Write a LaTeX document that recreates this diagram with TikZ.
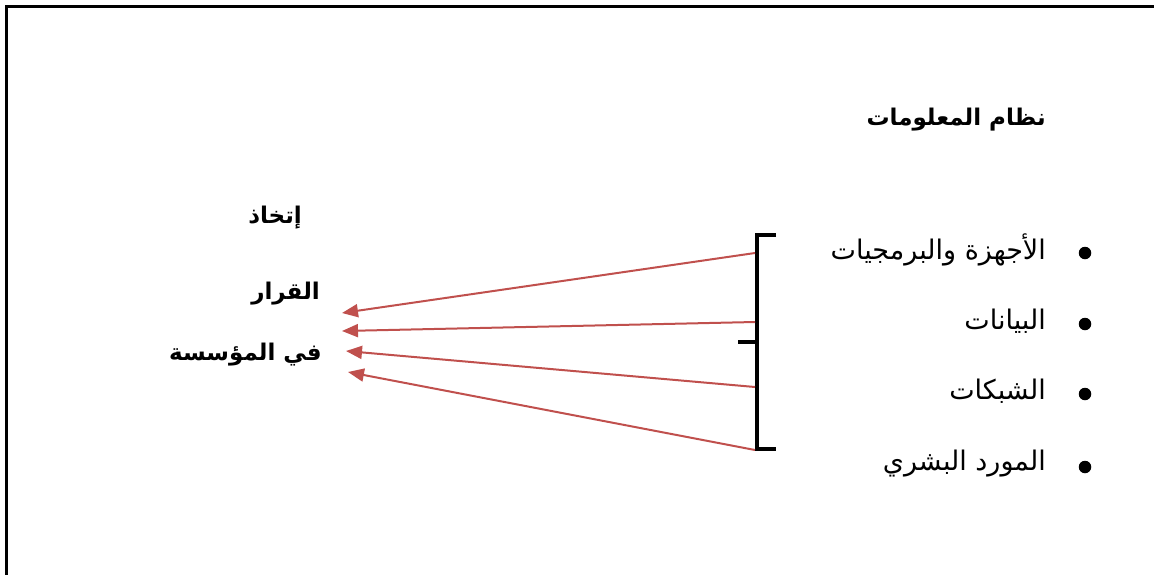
\documentclass[tikz,border=0pt]{standalone}
\usepackage{fontspec}
\newfontfamily\arabicfont[Script=Arabic]{DejaVu Sans}
\TeXXeTstate=1
\usetikzlibrary{arrows.meta}
\definecolor{arrred}{HTML}{C0504D}
\tikzset{
  ar/.style={font=\arabicfont\fontsize{27}{30}\selectfont, anchor=east, inner sep=0pt},
  arb/.style={font=\arabicfont\bfseries\fontsize{23}{26}\selectfont, anchor=east, inner sep=0pt},
  bul/.style={circle, fill=black, minimum size=12.5pt, inner sep=0pt},
  conn/.style={draw=arrred, line width=2pt, -{Triangle[length=16pt,width=13pt]}},
  frame/.style={line width=3pt, line cap=rect}
}
\begin{document}
\begin{tikzpicture}[x=1pt,y=-1pt]
\useasboundingbox (0,0) rectangle (1154,574);
\draw[frame] (6,574) -- (6,6) -- (1153,6);
% title
\node[arb] (title) at (1046,120) {\beginR نظام المعلومات\endR};
% items
\node[ar] (i1) at (1046,250) {\beginR الأجهزة والبرمجيات\endR};
\node[ar] (i2) at (1046,321) {\beginR البيانات\endR};
\node[ar] (i3) at (1046,391) {\beginR الشبكات\endR};
\node[ar] (i4) at (1046,464) {\beginR المورد البشري\endR};
\node[bul] (b1) at (1085,253) {};
\node[bul] (b2) at (1085,324) {};
\node[bul] (b3) at (1085,394) {};
\node[bul] (b4) at (1085,467) {};
% bracket
\coordinate (bt) at (776,235);
\coordinate (bb) at (776,449);
\coordinate (bm) at (738,342);
\draw[line width=3.2pt] (bt) -- (757,235) -- (757,449) -- (bb);
\draw[line width=3.2pt] (757,342) -- (bm);
% left text
\node[arb] (t1) at (302,218) {\beginR إتخاذ\endR};
\node[arb] (t2) at (320,294) {\beginR القرار\endR};
\node[arb] (t3) at (322,355) {\beginR في المؤسسة\endR};
% arrows
\coordinate (s1) at (755,253);
\coordinate (s2) at (755,322);
\coordinate (s3) at (755,387);
\coordinate (s4) at (755,450);
\coordinate (e1) at (342,313);
\coordinate (e2) at (342,331);
\coordinate (e3) at (346,351);
\coordinate (e4) at (348,372);
\draw[conn] (s1) -- (e1);
\draw[conn] (s2) -- (e2);
\draw[conn] (s3) -- (e3);
\draw[conn] (s4) -- (e4);
\end{tikzpicture}
\end{document}
